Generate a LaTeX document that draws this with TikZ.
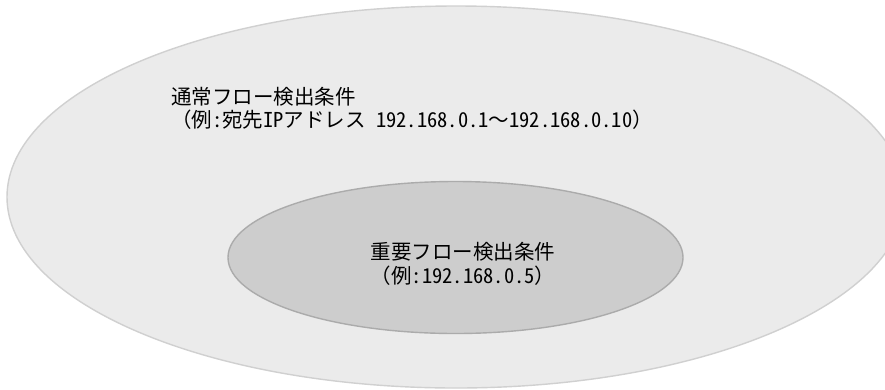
\documentclass[tikz,border=0pt]{standalone}
\usepackage{fontspec}
\setmainfont{Noto Sans CJK JP}
\newfontfamily\halfw{Noto Sans CJK JP}[RawFeature=+hwid]
\usetikzlibrary{shapes.geometric}

\definecolor{normalfill}{RGB}{235,235,235}
\definecolor{normaledge}{RGB}{208,208,208}
\definecolor{importantfill}{RGB}{205,205,205}
\definecolor{importantedge}{RGB}{171,171,171}

\tikzset{
  cond/.style={ellipse, line width=1.4pt, inner sep=0pt},
  condtext/.style={inner sep=0pt, font=\fontsize{20.5}{23.5}\selectfont}
}

\begin{document}
\begin{tikzpicture}[x=1pt,y=-1pt]
      \path[use as bounding box, clip] (0,0) rectangle (885,389);
      \fill[white] (0,0) rectangle (885,389);
      \node[cond, draw=normaledge, fill=normalfill, minimum width=898pt, minimum height=382pt] (normal) at (456,197) {};
      \node[cond, draw=importantedge, fill=importantfill, minimum width=455pt, minimum height=152pt] (important) at (455.5,257.5) {};
      \node[condtext, anchor=north west, align=left] (normaltext) at (171,87) {通常フロー検出条件\\（例{\halfw :}宛先{\halfw IP}アドレス{\halfw \ 192.168.0.1}～{\halfw 192.168.0.10}）};
      \node[condtext, align=center] (importanttext) at (463,264) {重要フロー検出条件\\ （例{\halfw :192.168.0.5}）};
\end{tikzpicture}
\end{document}
